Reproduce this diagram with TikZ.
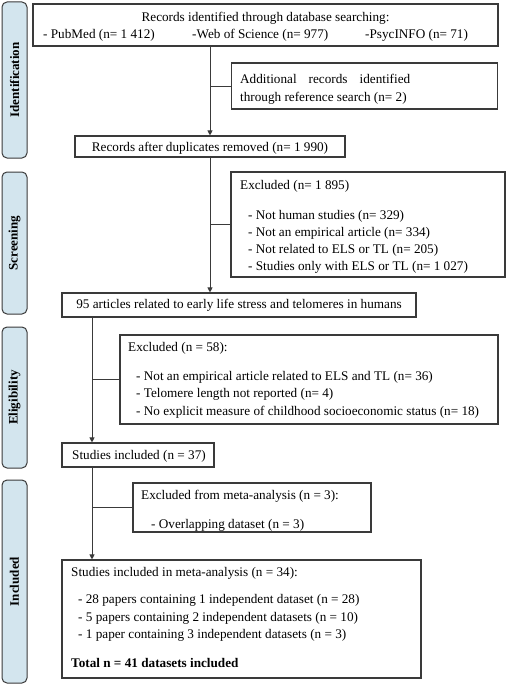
\documentclass[tikz,border=0pt]{standalone}
\usepackage{fontspec}
\setmainfont{Liberation Serif}
\usetikzlibrary{arrows.meta}
\definecolor{barfill}{HTML}{D3E5EE}
\definecolor{linecol}{HTML}{3A3A3A}
\begin{document}
\begin{tikzpicture}[x=1pt,y=-1pt,
  box/.style={draw=linecol, line width=1.1pt, inner sep=0pt},
  bar/.style={draw=linecol, line width=1pt, fill=barfill, rounded corners=5pt, inner sep=0pt, minimum width=25pt},
  lab/.style={rotate=90, inner sep=0pt, font=\fontsize{13}{15}\selectfont\bfseries},
  txt/.style={anchor=base west, inner sep=0pt, font=\fontsize{13.2}{15}\selectfont},
  ctxt/.style={anchor=base, inner sep=0pt, font=\fontsize{13.2}{15}\selectfont},
  conn/.style={draw=linecol, line width=0.9pt},
  arr/.style={conn, -{Triangle[length=5pt,width=5pt]}}
]
\path[use as bounding box] (0,0) rectangle (508,685);

% side bars
\node[bar, minimum height=156pt] (s1) at (14.5,80) {};
\node[lab] (l1) at (s1.center) {Identification};
\node[bar, minimum height=142pt] (s2) at (14.5,243) {};
\node[lab] (l2) at (s2.center) {Screening};
\node[bar, minimum height=141pt] (s3) at (14.5,397.5) {};
\node[lab] (l3) at (s3.center) {Eligibility};
\node[bar, minimum height=203pt] (s4) at (14.5,581.5) {};
\node[lab] (l4) at (s4.center) {Included};

% boxes
\node[box, minimum width=465pt, minimum height=42pt] (b1) at (265.5,25) {};
\node[ctxt] (t1a) at (265.5,22) {Records identified through database searching:};
\node[txt] (t1b) at (43,38) {- PubMed (n= 1 412)};
\node[txt] (t1c) at (192,38) {-Web of Science (n= 977)};
\node[txt] (t1d) at (365,38) {-PsycINFO (n= 71)};

\node[box, minimum width=266pt, minimum height=46pt] (add) at (364.5,86) {};
\node[txt] (t2a) at (240,83) {\makebox[170pt][s]{Additional records identified}};
\node[txt] (t2b) at (240,101) {through reference search (n= 2)};

\node[box, minimum width=270pt, minimum height=21pt] (dup) at (210,146.5) {};
\node[ctxt] (t3) at (210,151) {Records after duplicates removed (n= 1 990)};

\node[box, minimum width=274pt, minimum height=105pt] (ex1) at (368,224.5) {};
\node[txt] (t4a) at (240,189) {Excluded (n= 1 895)};
\node[txt] (t4b) at (248,219) {- Not human studies (n= 329)};
\node[txt] (t4c) at (248,236) {- Not an empirical article (n= 334)};
\node[txt] (t4d) at (248,253) {- Not related to ELS or TL (n= 205)};
\node[txt] (t4e) at (248,270) {- Studies only with ELS or TL (n= 1 027)};

\node[box, minimum width=354pt, minimum height=24pt] (a95) at (239,305) {};
\node[ctxt] (t5) at (239,308) {95 articles related to early life stress and telomeres in humans};

\node[box, minimum width=378pt, minimum height=89pt] (ex2) at (309,379.5) {};
\node[txt] (t6a) at (128,351) {Excluded (n = 58):};
\node[txt] (t6b) at (136,380) {- Not an empirical article related to ELS and TL (n= 36)};
\node[txt] (t6c) at (136,397) {- Telomere length not reported (n= 4)};
\node[txt] (t6d) at (136,415) {- No explicit measure of childhood socioeconomic status (n= 18)};

\node[box, minimum width=152pt, minimum height=24pt] (stud) at (138,455) {};
\node[txt] (t7) at (72,459) {Studies included (n = 37)};

\node[box, minimum width=238pt, minimum height=49pt] (ex3) at (252,507.5) {};
\node[txt] (t8a) at (141,499) {Excluded from meta-analysis (n = 3):};
\node[txt] (t8b) at (151,528) {- Overlapping dataset (n = 3)};

\node[box, minimum width=359pt, minimum height=118pt] (fin) at (241.5,619) {};
\node[txt] (t9a) at (71,576) {Studies included in meta-analysis (n = 34):};
\node[txt] (t9b) at (78,603) {- 28 papers containing 1 independent dataset (n = 28)};
\node[txt] (t9c) at (78,621) {- 5 papers containing 2 independent datasets (n = 10)};
\node[txt] (t9d) at (78,638) {- 1 paper containing 3 independent datasets (n = 3)};
\node[txt, font=\fontsize{13.2}{15}\selectfont\bfseries] (t9e) at (71,667) {Total n = 41 datasets included};

% connectors
\coordinate (c2) at (92,0);
\draw[arr] (b1.south -| dup.north) -- (dup.north);
\draw[conn] (add.west) -- (add.west -| dup.north);
\draw[arr] (dup.south) -- (dup.south |- a95.north);
\draw[conn] (ex1.west) -- (ex1.west -| dup.south);
\draw[arr] (a95.south -| c2) -- (stud.north -| c2);
\draw[conn] (ex2.west) -- (ex2.west -| c2);
\draw[arr] (stud.south -| c2) -- (fin.north -| c2);
\draw[conn] (ex3.west) -- (ex3.west -| c2);
\end{tikzpicture}
\end{document}
